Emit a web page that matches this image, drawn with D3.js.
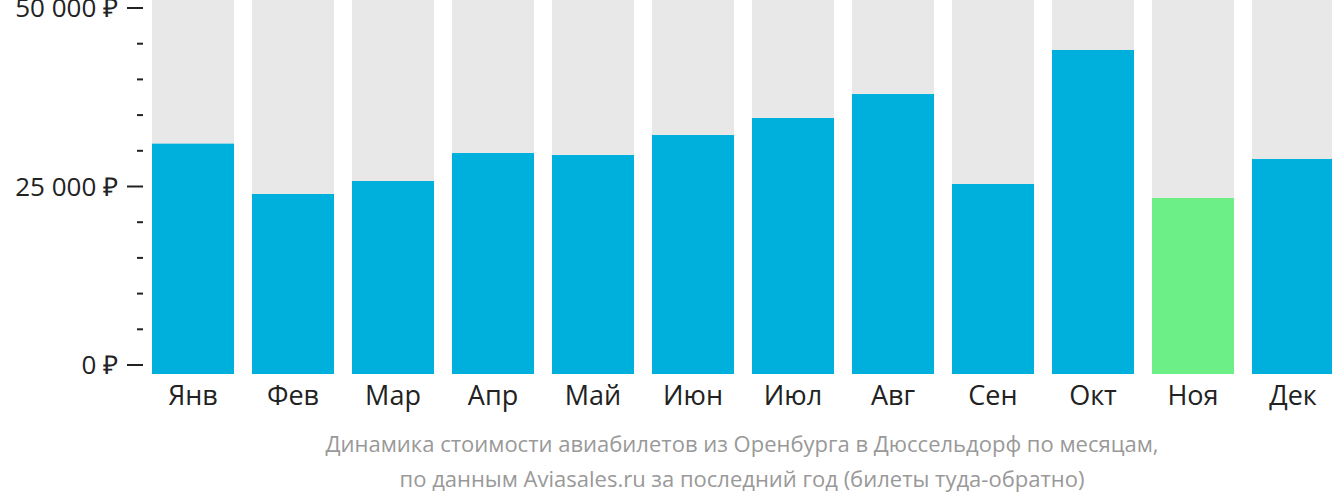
<!DOCTYPE html>
<html><head><meta charset="utf-8">
<script src="https://cdn.jsdelivr.net/npm/d3@7"></script>
<style>body{margin:0;background:#fff}svg{font-family:"Open Sans",sans-serif}</style>
</head><body><svg id="c" width="1332" height="502"></svg>
<script>
const months=["Янв","Фев","Мар","Апр","Май","Июн","Июл","Авг","Сен","Окт","Ноя","Дек"];
const prices=[31000,23950,25770,29690,29410,32210,34590,37950,25350,44120,23390,28850];
const colors=["#00b0dc","#00b0dc","#00b0dc","#00b0dc","#00b0dc","#00b0dc","#00b0dc","#00b0dc","#00b0dc","#00b0dc","#6cef87","#00b0dc"];
const tickVals=[0,25000,50000];
const tickLabels=["0 ₽","25 000 ₽","50 000 ₽"];
const caption=["Динамика стоимости авиабилетов из Оренбурга в Дюссельдорф по месяцам,","по данным Aviasales.ru за последний год (билеты туда-обратно)"];

const svg=d3.select("#c");
const y=d3.scaleLinear().domain([0,50000]).range([365,8]);
const x=d3.scaleBand().domain(months).range([152,1334]).paddingInner(0.18).paddingOuter(0);
const bottom=374;
svg.selectAll(".bg").data(months).enter().append("rect")
 .attr("x",d=>x(d)).attr("width",x.bandwidth()).attr("y",0).attr("height",bottom).attr("fill","#e8e8e8");
svg.selectAll(".bar").data(prices).enter().append("rect")
 .attr("x",(d,i)=>x(months[i])).attr("width",x.bandwidth()).attr("y",d=>y(d)).attr("height",d=>bottom-y(d)).attr("fill",(d,i)=>colors[i]);
const minor=d3.range(0,50001,5000);
svg.selectAll(".mt").data(minor).enter().append("line")
 .attr("x1",d=>tickVals.includes(d)?127:137).attr("x2",143).attr("y1",d=>y(d)).attr("y2",d=>y(d))
 .attr("stroke","#222").attr("stroke-width",2);
svg.selectAll(".tl").data(tickVals).enter().append("text")
 .attr("x",118).attr("y",d=>y(d)).attr("dy","0.35em").attr("text-anchor","end")
 .attr("font-size",26).attr("fill","#222").text((d,i)=>tickLabels[i]);
svg.selectAll(".ml").data(months).enter().append("text")
 .attr("x",d=>x(d)+x.bandwidth()/2).attr("y",405).attr("text-anchor","middle")
 .attr("font-size",27).attr("fill","#222").text(d=>d);
svg.selectAll(".cap").data(caption).enter().append("text")
 .attr("x",742).attr("y",(d,i)=>452+i*35).attr("text-anchor","middle")
 .attr("font-size",22).attr("fill","#999").text(d=>d);
</script></body></html>
